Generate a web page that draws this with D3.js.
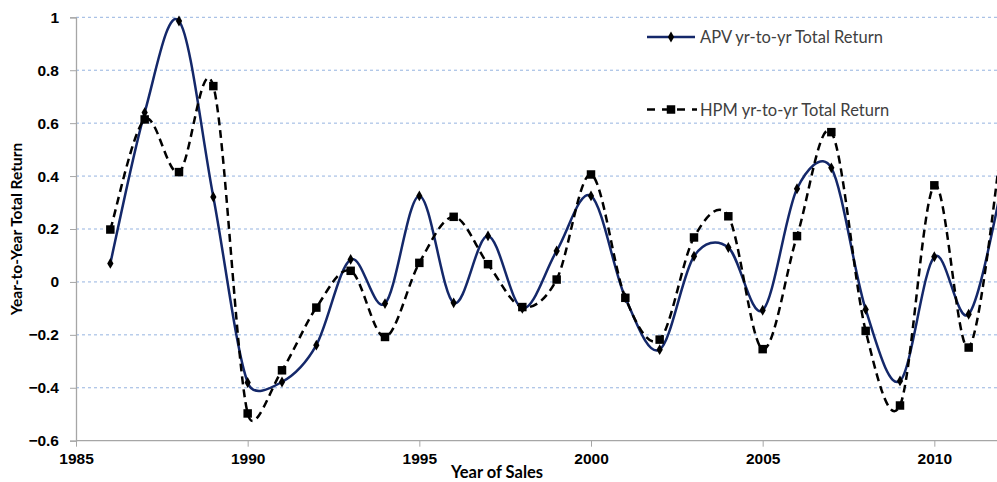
<!DOCTYPE html>
<html>
<head>
<meta charset="utf-8">
<script src="https://cdn.jsdelivr.net/npm/d3@7"></script>
<style>
  body { margin: 0; background: #fff; }
  svg { display: block; font-family: Lato, "Open Sans", sans-serif; }
</style>
</head>
<body>
<div id="chart"></div>
<script>
// data
const years = [1986, 1987, 1988, 1989, 1990, 1991, 1992, 1993, 1994, 1995, 1996, 1997, 1998, 1999,
  2000, 2001, 2002, 2003, 2004, 2005, 2006, 2007, 2008, 2009, 2010, 2011, 2012];
const apv = [0.07, 0.64, 0.986, 0.321, -0.38, -0.378, -0.239, 0.085, -0.082, 0.325, -0.079, 0.174, -0.1, 0.117,
  0.325, -0.06, -0.256, 0.097, 0.13, -0.107, 0.352, 0.431, -0.104, -0.374, 0.095, -0.122, 0.38];
const hpm = [0.198, 0.614, 0.415, 0.74, -0.497, -0.334, -0.097, 0.042, -0.208, 0.072, 0.246, 0.067, -0.095, 0.009,
  0.406, -0.06, -0.218, 0.168, 0.248, -0.254, 0.173, 0.566, -0.185, -0.467, 0.365, -0.248, 0.56];
const yTicks = [-0.6, -0.4, -0.2, 0, 0.2, 0.4, 0.6, 0.8, 1];
const xTicks = [1985, 1990, 1995, 2000, 2005, 2010];
const seriesNames = ["APV yr-to-yr Total Return", "HPM yr-to-yr Total Return"];

const width = 997, height = 482;
const svg = d3.select("#chart").append("svg")
  .attr("width", width)
  .attr("height", height);

const x = d3.scaleLinear().domain([1985, 2012]).range([76, 1003]);
const y = d3.scaleLinear().domain([-0.6, 1]).range([440.7, 17.3]);

// spreadsheet-style smoothing: bezier with 1/6 tangents, capped at half the segment
function smoothCurve(context) {
  let pts = [];
  return {
    areaStart() {},
    areaEnd() {},
    lineStart() { pts = []; },
    point(px, py) { pts.push([+px, +py]); },
    lineEnd() {
      if (!pts.length) return;
      context.moveTo(pts[0][0], pts[0][1]);
      const n = pts.length;
      const dist = (a, b) => Math.hypot(b[0] - a[0], b[1] - a[1]);
      for (let i = 0; i < n - 1; i++) {
        const p0 = pts[Math.max(i - 1, 0)];
        const p1 = pts[i];
        const p2 = pts[i + 1];
        const p3 = pts[Math.min(i + 2, n - 1)];
        const seg = dist(p1, p2);
        let t1 = [(p2[0] - p0[0]) / 6, (p2[1] - p0[1]) / 6];
        let t2 = [(p3[0] - p1[0]) / 6, (p3[1] - p1[1]) / 6];
        const l1 = Math.hypot(t1[0], t1[1]);
        const l2 = Math.hypot(t2[0], t2[1]);
        if (l1 > seg / 2) t1 = t1.map(v => v * seg / 2 / l1);
        if (l2 > seg / 2) t2 = t2.map(v => v * seg / 2 / l2);
        context.bezierCurveTo(p1[0] + t1[0], p1[1] + t1[1], p2[0] - t2[0], p2[1] - t2[1], p2[0], p2[1]);
      }
    }
  };
}

// gridlines
svg.append("g")
  .selectAll("line")
  .data(yTicks.filter(d => d > -0.6))
  .enter()
  .append("line")
  .attr("x1", x(1985))
  .attr("x2", width)
  .attr("y1", d => y(d))
  .attr("y2", d => y(d))
  .attr("stroke", "#95b3e0")
  .attr("stroke-width", 1)
  .attr("stroke-dasharray", "3,3");

// axes
const yAxis = svg.append("g")
  .attr("transform", `translate(${x(1985)},0)`)
  .call(d3.axisLeft(y).tickValues(yTicks).tickSize(6).tickPadding(11)
    .tickFormat(d => d3.format("")(+d.toFixed(1))));
const xAxis = svg.append("g")
  .attr("transform", `translate(0,${y(-0.6)})`)
  .call(d3.axisBottom(x).tickValues(xTicks).tickSize(6).tickPadding(6).tickFormat(d3.format("d")));

[yAxis, xAxis].forEach(g => {
  g.select(".domain").attr("stroke", "#a6a6a6").attr("stroke-width", 1.3);
  g.selectAll(".tick line").attr("stroke", "#a6a6a6");
  g.selectAll("text")
    .attr("fill", "#000")
    .style("font-size", "15.5px")
    .style("font-weight", "bold");
});
xAxis.select(".domain").attr("d", `M${x(1985)},0H${width}`);

// axis titles
svg.append("text")
  .attr("transform", "translate(22,229) rotate(-90)")
  .attr("text-anchor", "middle")
  .style("font-size", "15.5px")
  .style("font-weight", "bold")
  .text("Year-to-Year Total Return");
svg.append("text")
  .attr("x", 497)
  .attr("y", 478)
  .attr("text-anchor", "middle")
  .style("font-size", "16.5px")
  .style("font-weight", "bold")
  .text("Year of Sales");

const makeLine = vals => d3.line()
  .x((d, i) => x(years[i]))
  .y(d => y(d))
  .curve(smoothCurve)(vals);

const diamond = d3.symbol().type(d3.symbolDiamond).size(34);
const square = d3.symbol().type(d3.symbolSquare).size(72);

// APV solid navy line with diamonds
svg.append("path")
  .attr("d", makeLine(apv))
  .attr("fill", "none")
  .attr("stroke", "#14286a")
  .attr("stroke-width", 2.5);
svg.append("g")
  .selectAll("path")
  .data(apv)
  .enter()
  .append("path")
  .attr("d", diamond)
  .attr("transform", (d, i) => `translate(${x(years[i])},${y(d)})`)
  .attr("fill", "#000");

// HPM dashed black line with squares
svg.append("path")
  .attr("d", makeLine(hpm))
  .attr("fill", "none")
  .attr("stroke", "#000")
  .attr("stroke-width", 2.5)
  .attr("stroke-dasharray", "8,5");
svg.append("g")
  .selectAll("path")
  .data(hpm)
  .enter()
  .append("path")
  .attr("d", square)
  .attr("transform", (d, i) => `translate(${x(years[i])},${y(d)})`)
  .attr("fill", "#000");

// legend
const legend = svg.append("g");
legend.append("line")
  .attr("x1", 647).attr("x2", 695)
  .attr("y1", 37).attr("y2", 37)
  .attr("stroke", "#14286a").attr("stroke-width", 2.5);
legend.append("path")
  .attr("d", diamond)
  .attr("transform", "translate(671,37)");
legend.append("text")
  .attr("x", 700).attr("y", 42.5)
  .attr("fill", "#404040")
  .style("font-size", "16.5px")
  .text(seriesNames[0]);

legend.append("line")
  .attr("x1", 647).attr("x2", 697)
  .attr("y1", 109.5).attr("y2", 109.5)
  .attr("stroke", "#000").attr("stroke-width", 2.5)
  .attr("stroke-dasharray", "8,7");
legend.append("path")
  .attr("d", square)
  .attr("transform", "translate(671,109.5)");
legend.append("text")
  .attr("x", 700).attr("y", 115.5)
  .attr("fill", "#404040")
  .style("font-size", "16.5px")
  .text(seriesNames[1]);
</script>
</body>
</html>
